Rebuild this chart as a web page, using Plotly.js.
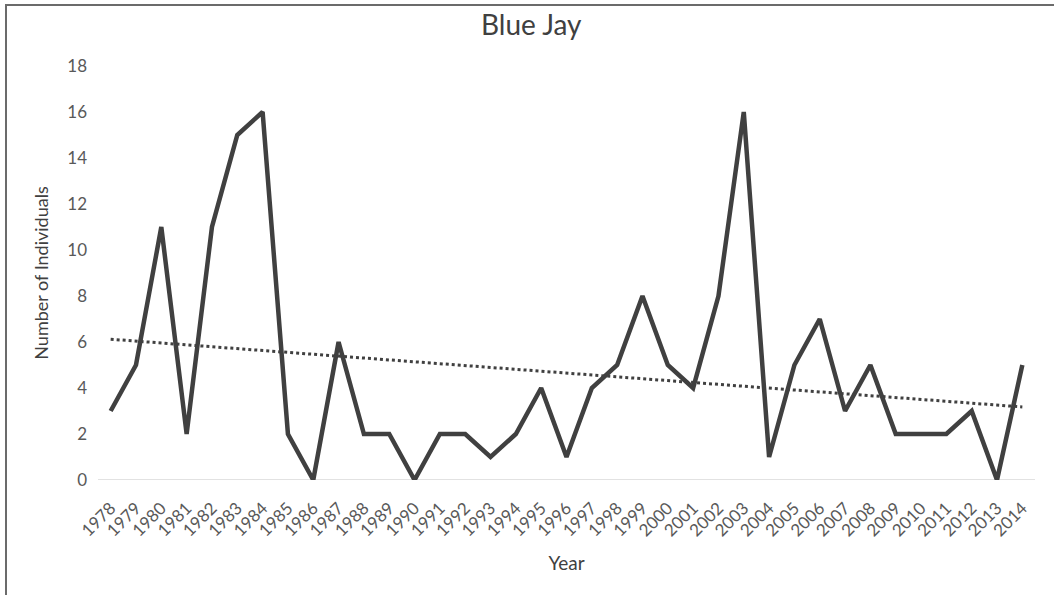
<!DOCTYPE html>
<html>
<head>
<meta charset="utf-8">
<script src="https://cdn.plot.ly/plotly-3.0.1.min.js"></script>
<style>
html,body{margin:0;padding:0;background:#fff;overflow:hidden;}
#wrap{position:relative;width:1054px;height:595px;overflow:hidden;}
#chart{width:1054px;height:595px;}
#frame{position:absolute;left:5px;top:4px;width:1100px;height:650px;border-top:2px solid #6b6b6b;border-left:2px solid #6b6b6b;pointer-events:none;}
</style>
</head>
<body>
<div id="wrap"><div id="chart"></div><div id="frame"></div></div>
<script>
const years = ["1978","1979","1980","1981","1982","1983","1984","1985","1986","1987","1988","1989","1990","1991","1992","1993","1994","1995","1996","1997","1998","1999","2000","2001","2002","2003","2004","2005","2006","2007","2008","2009","2010","2011","2012","2013","2014"];
const counts = [3,5,11,2,11,15,16,2,0,6,2,2,0,2,2,1,2,4,1,4,5,8,5,4,8,16,1,5,7,3,5,2,2,2,3,0,5];
const yTicks = [0,2,4,6,8,10,12,14,16,18];

// Linear trendline (least squares) derived from the data, as Excel does
const n = counts.length;
const idx = counts.map((_, i) => i);
const mx = idx.reduce((a, b) => a + b, 0) / n;
const my = counts.reduce((a, b) => a + b, 0) / n;
let sxy = 0, sxx = 0;
idx.forEach((x, i) => { sxy += (x - mx) * (counts[i] - my); sxx += (x - mx) * (x - mx); });
const slope = sxy / sxx, icpt = my - slope * mx;
const trend = idx.map(x => icpt + slope * x);

const font = "Lato, 'Open Sans', 'DejaVu Sans', sans-serif";
const data = [
  {x: years, y: counts, type: "scatter", mode: "lines", line: {color: "#404040", width: 4.5}, hoverinfo: "x+y"},
  {x: years, y: trend, type: "scatter", mode: "lines", line: {color: "#404040", width: 3, dash: "dot"}, hoverinfo: "skip"}
];
const layout = {
  width: 1054, height: 595,
  margin: {l: 98, r: 19, t: 66, b: 115},
  paper_bgcolor: "#fff", plot_bgcolor: "#fff",
  showlegend: false,
  font: {family: font, color: "#595959", size: 16},
  title: {text: "Blue Jay", x: 0.504, xref: "container", xanchor: "center", y: 0.957, yref: "container", yanchor: "middle", font: {size: 28, color: "#404040", family: font}},
  xaxis: {
    type: "category", tickangle: -45, showgrid: false, zeroline: false, showline: false,
    ticks: "", tickfont: {size: 17, color: "#595959"}, range: [-0.5, 36.5], ticklabelstandoff: 14,
    title: {text: "Year", font: {size: 19, color: "#404040"}, standoff: 17}
  },
  yaxis: {
    range: [0, 18], tickvals: yTicks, ticktext: yTicks.map(String), showgrid: false,
    zeroline: false, showline: false, ticks: "", tickfont: {size: 17, color: "#595959"}, ticklabelstandoff: 10,
    title: {text: "Number of Individuals", font: {size: 18, color: "#404040"}, standoff: 13}
  },
  shapes: [{type: "line", xref: "paper", yref: "y", x0: 0, x1: 1, y0: 0, y1: 0, line: {color: "#d9d9d9", width: 1.5}, layer: "below"}]
};
Plotly.newPlot("chart", data, layout, {displayModeBar: false, staticPlot: true});
</script>
</body>
</html>
